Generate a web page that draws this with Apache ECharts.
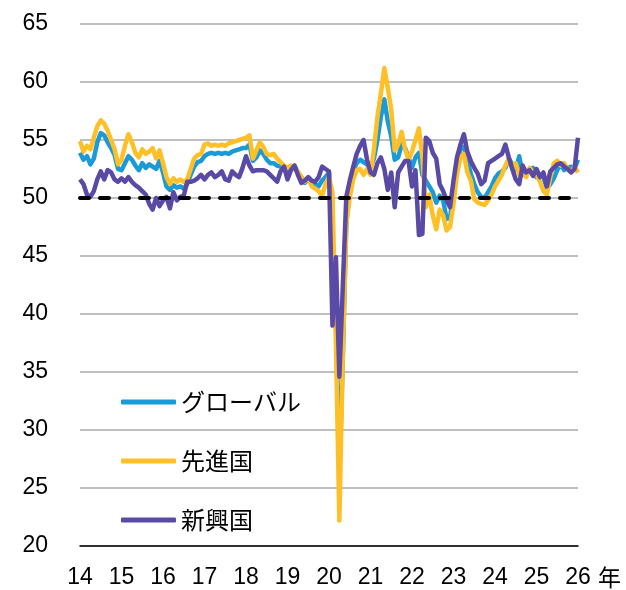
<!DOCTYPE html>
<html>
<head>
<meta charset="utf-8">
<script src="https://cdn.jsdelivr.net/npm/echarts@6.0.0/dist/echarts.min.js"></script>
<style>
  html, body { margin: 0; padding: 0; background: #fff; }
  #chart { width: 626px; height: 590px; }
</style>
</head>
<body>
<div id="chart"></div>
<script>
// 年ラベル（各年1月の位置に表示）
var yearLabels = ['14', '15', '16', '17', '18', '19', '20', '21', '22', '23', '24', '25', '26']

// グローバル
var globalPmi = [
  53.9, 53.3, 53.6, 52.9, 53.4, 54.8, 55.6, 55.4, 54.8, 54.3, 53.7, 52.5,
  52.4, 53.0, 53.6, 53.3, 52.8, 52.4, 53.0, 52.6, 52.9, 52.7, 52.5, 53.2,
  52.2, 51.0, 50.7, 51.1, 50.9, 51.0, 50.8, 51.2, 52.0, 52.7, 53.1, 53.2,
  53.6, 53.8, 53.9, 53.8, 53.9, 53.8, 53.9, 53.8, 54.0, 54.1, 54.2, 54.3,
  54.3, 54.6, 53.2, 53.5, 54.1, 53.8, 53.3, 53.0, 53.0, 52.8, 52.7, 52.6,
  52.4, 52.6, 52.8, 52.2, 51.8, 51.3, 51.6, 51.4, 51.2, 51.0, 51.5, 51.8,
  52.2, 46.5, 39.5, 26.2, 36.3, 47.8, 50.8, 52.4, 53.0, 53.3, 53.1, 52.9,
  52.6, 53.4, 55.0, 57.0, 58.5, 56.6, 55.3, 53.3, 53.5, 54.6, 54.3, 53.5,
  52.6, 53.5, 53.9, 52.0, 51.5, 51.0, 50.5, 49.6, 50.2, 49.8, 48.2, 48.3,
  50.5, 53.0, 54.2, 54.4, 53.3, 52.1, 51.2, 50.5, 50.1, 50.0, 50.5, 51.0,
  51.7, 52.1, 52.3, 52.6, 53.4, 52.9, 52.4, 53.6, 52.0, 52.0, 52.4, 52.6,
  51.8, 52.0, 51.8, 50.8, 51.2, 51.7, 52.4, 52.9, 52.4, 52.6, 52.7, 52.5,
  53.3
]

// 先進国
var advancedPmi = [
  54.9, 54.0, 54.5, 54.2, 55.2, 56.2, 56.7, 56.4, 55.8, 55.0, 54.2, 52.9,
  53.3, 54.5, 55.5, 54.8, 53.9, 53.5, 54.2, 53.8, 54.0, 54.3, 53.4, 54.1,
  53.0, 51.8, 51.2, 51.7, 51.4, 51.6, 51.4, 51.6, 52.5, 53.4, 53.7, 53.8,
  54.6, 54.7, 54.5, 54.6, 54.5, 54.6, 54.5, 54.7, 54.8, 54.9, 55.0, 55.1,
  55.2, 55.4, 53.4, 54.1, 54.8, 54.4, 53.8, 53.7, 53.8, 53.4, 53.1, 52.8,
  52.6, 52.8, 52.5, 52.3, 51.8, 51.4, 51.7, 51.0, 50.8, 50.6, 50.2, 51.2,
  51.8, 50.5, 37.5, 22.2, 36.5, 47.8, 50.0, 51.6, 52.4, 52.5, 52.0, 52.5,
  52.0, 54.2, 57.0, 59.0, 61.2, 59.5, 57.6, 54.1, 54.6, 55.7, 54.2, 53.3,
  54.0, 55.0, 56.0, 53.5, 49.2, 50.3, 48.5, 47.3, 49.0, 48.5, 47.2, 47.5,
  49.5, 52.0, 53.5, 53.8, 52.2, 51.5, 49.9, 49.6, 49.5, 49.4, 49.8, 50.3,
  51.0, 51.5, 52.0, 52.8, 53.4, 52.6, 53.0, 52.0, 52.3, 51.8, 52.6, 52.2,
  52.0, 51.4, 50.6, 50.3, 51.8, 53.0, 53.2, 52.8, 53.0, 52.5, 52.2, 52.7,
  52.2
]

// 新興国
var emergingPmi = [
  51.6, 51.2, 50.3, 50.1, 50.6, 51.6, 52.3, 51.6, 52.4, 52.2, 51.6, 51.4,
  51.7, 51.4, 51.8, 51.4, 51.1, 50.9, 50.6, 50.3, 49.5, 49.0, 50.0, 49.3,
  49.8, 50.1, 49.1, 50.5, 49.8, 50.1, 50.2, 51.4, 51.4, 51.5, 51.7, 52.0,
  51.6, 52.0, 52.2, 51.8, 52.0, 52.3, 51.6, 51.5, 52.3, 52.0, 51.8, 52.6,
  53.6, 52.8, 52.3, 52.4, 52.4, 52.4, 52.3, 52.0, 51.7, 51.4, 52.3, 52.7,
  51.6, 52.4, 52.8, 52.0, 51.3, 51.5, 51.8, 51.5, 51.4, 51.8, 52.7, 52.5,
  52.3, 39.0, 44.9, 34.6, 42.5, 50.1, 51.5, 52.7, 53.8, 54.5, 55.0, 53.3,
  52.2, 52.0, 53.0, 53.5, 52.5, 50.7, 52.2, 49.2, 52.2, 52.7, 53.2, 53.2,
  51.0, 52.4, 46.8, 46.9, 55.2, 54.9, 53.9, 53.4, 51.2, 50.6, 49.8, 49.2,
  51.5, 53.5, 54.6, 55.5, 54.0, 53.2, 52.6, 52.1, 51.2, 51.5, 53.0, 53.2,
  53.4, 53.6, 53.8, 54.6, 53.5, 52.5, 51.6, 51.2, 52.8, 52.2, 52.4, 51.9,
  52.5, 51.8, 52.2, 51.0, 52.3, 52.6, 52.9, 53.0, 52.7, 52.5, 52.2, 52.5,
  55.2
]

// 月次カテゴリ（2014年1月〜2026年1月）
var months = []
yearLabels.forEach(function (y, i) {
  var last = i === yearLabels.length - 1 ? 1 : 12
  for (var m = 1; m <= last; m++) {
    months.push(y + '-' + (m < 10 ? '0' + m : m))
  }
})

var axisFont = 'Liberation Sans, Arial, sans-serif'
var jpFont = 'Noto Sans CJK JP, sans-serif'

var chart = echarts.init(document.getElementById('chart'))
chart.setOption({
  animation: false,
  color: ['#1a9ad6', '#ffbf27', '#5a4aa5'],
  grid: { left: 80, right: 48, top: 24, bottom: 44 },
  legend: {
    orient: 'vertical',
    left: 121,
    top: 390,
    padding: 0,
    itemWidth: 55,
    itemHeight: 5,
    itemGap: 35,
    icon: 'roundRect',
    textStyle: { fontSize: 24, color: '#000', fontFamily: jpFont, lineHeight: 24 },
    data: ['グローバル', '先進国', '新興国']
  },
  xAxis: {
    type: 'category',
    data: months,
    boundaryGap: false,
    name: '年',
    nameLocation: 'end',
    nameGap: 20,
    nameTextStyle: { fontSize: 23, color: '#000', fontFamily: jpFont, verticalAlign: 'top', padding: [20, 0, 0, 0] },
    axisLine: { lineStyle: { color: '#000', width: 1.5 } },
    axisTick: { show: false },
    axisLabel: {
      interval: function (i) { return i % 12 === 0 },
      formatter: function (v) { return v.slice(0, 2) },
      fontSize: 23,
      color: '#000',
      fontFamily: axisFont,
      margin: 20
    },
    splitLine: { show: false }
  },
  yAxis: {
    type: 'value',
    min: 20,
    max: 65,
    interval: 5,
    axisLine: { show: false },
    axisTick: { show: false },
    axisLabel: { fontSize: 23, color: '#000', fontFamily: axisFont, margin: 32 },
    splitLine: { lineStyle: { color: '#bfbfbf', width: 2 } }
  },
  series: [
    {
      name: 'グローバル',
      type: 'line',
      data: globalPmi,
      symbol: 'none',
      lineStyle: { width: 4.5, join: 'round' }
    },
    {
      name: '先進国',
      type: 'line',
      data: advancedPmi,
      symbol: 'none',
      lineStyle: { width: 4.5, join: 'round' }
    },
    {
      name: '新興国',
      type: 'line',
      data: emergingPmi,
      symbol: 'none',
      lineStyle: { width: 4.5, join: 'round' },
      // 50ライン（破線）
      markLine: {
        silent: true,
        symbol: 'none',
        label: { show: false },
        lineStyle: { color: '#000', width: 4, type: [9, 11], cap: 'round' },
        data: [[{ coord: [months[0], 50] }, { coord: [months[142], 50] }]]
      }
    }
  ]
})
</script>
</body>
</html>
